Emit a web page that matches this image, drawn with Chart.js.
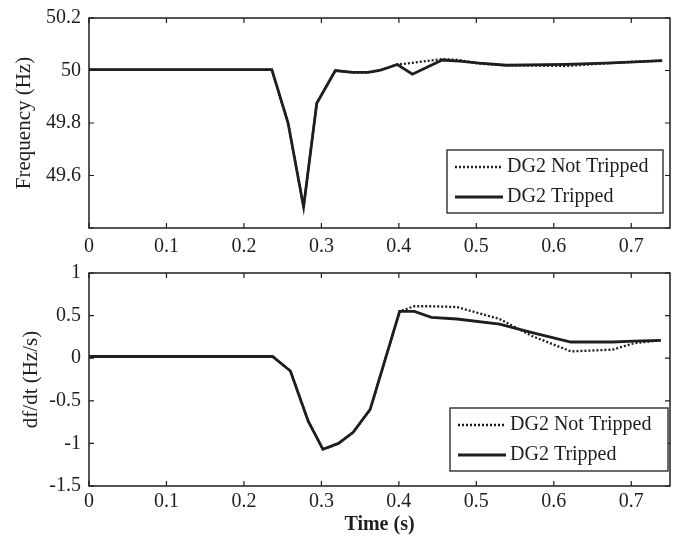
<!DOCTYPE html>
<html>
<head>
<meta charset="utf-8">
<script src="https://cdn.jsdelivr.net/npm/chart.js@4"></script>
<style>
body { margin: 0; background: #fff; }
#wrap { position: relative; width: 680px; height: 537px; }
.box { position: absolute; left: 0; width: 680px; }
</style>
</head>
<body>
<div id="wrap">
  <div class="box" style="top:0;height:260px"><canvas id="freqChart"></canvas></div>
  <div class="box" style="top:260px;height:277px"><canvas id="rocofChart"></canvas></div>
</div>
<script>
// values
const freqTime = [0, 0.236, 0.257, 0.277, 0.294, 0.318, 0.34, 0.36, 0.375, 0.398, 0.4175, 0.456, 0.478, 0.504, 0.539, 0.616, 0.676, 0.74]
const freqTripped = [50.003, 50.003, 49.8, 49.48, 49.875, 50.0, 49.993, 49.993, 50.0, 50.023, 49.986, 50.04, 50.036, 50.028, 50.02, 50.023, 50.029, 50.038]
const freqNotTripped = [50.003, 50.003, 49.8, 49.48, 49.875, 50.0, 49.993, 49.993, 50.0, 50.023, 50.029, 50.044, 50.04, 50.026, 50.02, 50.017, 50.029, 50.038]

const rocofTime = [0, 0.237, 0.26, 0.283, 0.302, 0.322, 0.341, 0.363, 0.401, 0.42, 0.442, 0.475, 0.53, 0.572, 0.622, 0.676, 0.703, 0.738]
const rocofTripped = [0.02, 0.02, -0.15, -0.74, -1.07, -1.0, -0.87, -0.6, 0.55, 0.55, 0.48, 0.46, 0.4, 0.3, 0.19, 0.19, 0.2, 0.21]
const rocofNotTripped = [0.02, 0.02, -0.15, -0.74, -1.07, -1.0, -0.87, -0.6, 0.55, 0.61, 0.61, 0.6, 0.46, 0.26, 0.08, 0.1, 0.175, 0.21]

const seriesNames = ['DG2 Tripped', 'DG2 Not Tripped']
const timeTicks = [0, 0.1, 0.2, 0.3, 0.4, 0.5, 0.6, 0.7]
const freqTicks = [49.4, 49.6, 49.8, 50, 50.2]
const rocofTicks = [-1.5, -1, -0.5, 0, 0.5, 1]

const FONT = "'Liberation Serif', 'Times New Roman', serif"
const INK = '#1e1e1e'

function toPoints(xs, ys) {
    return xs.map((x, i) => ({ x: x, y: ys[i] }))
}

function fmt(v) {
    return String(Math.round(v * 10) / 10)
}

// box, inward ticks and the legend in the lower right corner
const framePlugin = {
    id: 'frame',
    afterDraw(chart, args, opts) {
        const ctx = chart.ctx
        const a = chart.chartArea
        const xs = chart.scales.x
        const ys = chart.scales.y
        ctx.save()
        ctx.strokeStyle = INK
        ctx.lineWidth = 1.5
        ctx.strokeRect(a.left, a.top, a.right - a.left, a.bottom - a.top)
        ctx.lineWidth = 1.2
        xs.ticks.forEach(function (t) {
            const px = xs.getPixelForValue(t.value)
            ctx.beginPath()
            ctx.moveTo(px, a.bottom); ctx.lineTo(px, a.bottom - 5)
            ctx.moveTo(px, a.top); ctx.lineTo(px, a.top + 5)
            ctx.stroke()
        })
        ys.ticks.forEach(function (t) {
            const py = ys.getPixelForValue(t.value)
            ctx.beginPath()
            ctx.moveTo(a.left, py); ctx.lineTo(a.left + 5, py)
            ctx.moveTo(a.right, py); ctx.lineTo(a.right - 5, py)
            ctx.stroke()
        })

        // legend
        const w = opts.legendWidth
        const h = 63
        const lx = a.right - opts.legendRight - w
        const ly = a.bottom - opts.legendBottom - h
        ctx.fillStyle = '#fff'
        ctx.fillRect(lx, ly, w, h)
        ctx.lineWidth = 1.3
        ctx.strokeRect(lx, ly, w, h)
        ctx.font = '20px ' + FONT
        ctx.textBaseline = 'middle'
        ctx.fillStyle = INK
        const order = [1, 0]
        order.forEach(function (di, row) {
            const ds = chart.data.datasets[di]
            const cy = ly + 17 + row * 30
            ctx.beginPath()
            ctx.setLineDash(ds.borderDash || [])
            ctx.lineWidth = ds.borderWidth
            ctx.strokeStyle = ds.borderColor
            ctx.moveTo(lx + 8, cy)
            ctx.lineTo(lx + 56, cy)
            ctx.stroke()
            ctx.setLineDash([])
            ctx.fillText(ds.label, lx + 60, cy)
        })
        ctx.restore()
    }
}

function makeChart(id, tripped, notTripped, layout) {
    return new Chart(document.getElementById(id), {
        type: 'line',
        data: {
            datasets: [{
                label: seriesNames[0],
                data: tripped,
                borderColor: INK,
                borderWidth: 2.8,
                pointRadius: 0,
                tension: 0
            }, {
                label: seriesNames[1],
                data: notTripped,
                borderColor: INK,
                borderWidth: 2.3,
                borderDash: [2, 2],
                pointRadius: 0,
                tension: 0
            }]
        },
        options: {
            responsive: true,
            maintainAspectRatio: false,
            animation: false,
            layout: { padding: { top: layout.top, right: 10, left: 0, bottom: layout.bottom } },
            plugins: {
                legend: { display: false },
                tooltip: { enabled: false },
                frame: { legendWidth: layout.legendWidth, legendRight: layout.legendRight, legendBottom: 15 }
            },
            scales: {
                x: {
                    type: 'linear',
                    min: 0,
                    max: 0.75,
                    afterBuildTicks: function (scale) {
                        scale.ticks = timeTicks.map(v => ({ value: v }))
                    },
                    afterFit: function (scale) {
                        if (layout.xHeight) scale.height = layout.xHeight
                    },
                    grid: { display: false, drawTicks: false },
                    border: { display: false },
                    ticks: {
                        padding: layout.xPad,
                        maxRotation: 0,
                        autoSkip: false,
                        color: INK,
                        font: { family: FONT, size: 20, lineHeight: 1.2 },
                        callback: fmt
                    },
                    title: {
                        display: !!layout.xTitle,
                        text: layout.xTitle || '',
                        color: INK,
                        font: { family: FONT, size: 20, weight: 'bold', lineHeight: 1.0 },
                        padding: { top: -3, bottom: 0 }
                    }
                },
                y: {
                    min: layout.yTicks[0],
                    max: layout.yTicks[layout.yTicks.length - 1],
                    afterBuildTicks: function (scale) {
                        scale.ticks = layout.yTicks.map(v => ({ value: v }))
                    },
                    afterFit: function (scale) {
                        scale.width = 89
                        scale.paddingTop = 0
                        scale.paddingBottom = 0
                    },
                    grid: { display: false, drawTicks: false },
                    border: { display: false },
                    ticks: {
                        padding: 8,
                        autoSkip: false,
                        color: INK,
                        font: { family: FONT, size: 20 },
                        callback: function (v) { return layout.hideMin && v === layout.yTicks[0] ? '' : fmt(v) }
                    },
                    title: {
                        display: true,
                        text: layout.yTitle,
                        color: INK,
                        font: { family: FONT, size: 21, lineHeight: 1.2 },
                        padding: { top: layout.yTitlePad, bottom: 0 }
                    }
                }
            }
        },
        plugins: [framePlugin]
    })
}

makeChart('freqChart',
    toPoints(freqTime, freqTripped),
    toPoints(freqTime, freqNotTripped),
    { top: 18, bottom: 0, xPad: 7, xHeight: 32, yTicks: freqTicks, yTitle: 'Frequency (Hz)', yTitlePad: 12, hideMin: true, legendWidth: 216, legendRight: 7 })

makeChart('rocofChart',
    toPoints(rocofTime, rocofTripped),
    toPoints(rocofTime, rocofNotTripped),
    { top: 13, bottom: 2, xPad: 4, xTitle: 'Time (s)', yTicks: rocofTicks, yTitle: 'df/dt (Hz/s)', yTitlePad: 19, hideMin: false, legendWidth: 218, legendRight: 2 })
</script>
</body>
</html>
